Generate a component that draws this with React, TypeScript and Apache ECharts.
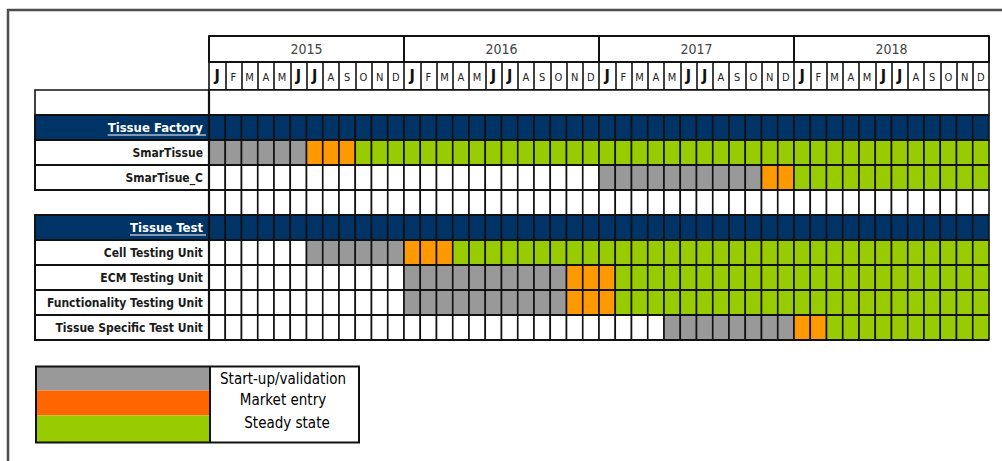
import React, { useEffect, useRef } from "react";
import * as echarts from "echarts";

// Timeline axis
const years = ["2015", "2016", "2017", "2018"];
const monthLetters = ["J", "F", "M", "A", "M", "J", "J", "A", "S", "O", "N", "D"];
const months = years.flatMap((y) => monthLetters.map((_, i) => `${y}-${String(i + 1).padStart(2, "0")}`));

// Table rows, top to bottom ("blank" and "gap" are empty spacer rows)
const rowKeys = [
  "blank",
  "Tissue Factory",
  "SmarTissue",
  "SmarTisue_C",
  "gap",
  "Tissue Test",
  "Cell Testing Unit",
  "ECM Testing Unit",
  "Functionality Testing Unit",
  "Tissue Specific Test Unit",
];
const sections = ["Tissue Factory", "Tissue Test"];

// Units and the month index (0 = Jan 2015) at which each phase begins
const units = [
  "SmarTissue",
  "SmarTisue_C",
  "Cell Testing Unit",
  "ECM Testing Unit",
  "Functionality Testing Unit",
  "Tissue Specific Test Unit",
];
const startupStart = [0, 24, 6, 12, 12, 28];
const marketStart = [6, 34, 12, 22, 22, 36];
const steadyStart = [9, 36, 15, 25, 25, 38];

const legendLabels = ["Start-up/validation", "Market entry", "Steady state"];

const NAVY = "#003366";
const GRAY = "#999999";
const ORANGE = "#ff9900";
const GREEN = "#99cc00";
const LEGEND_ORANGE = "#ff6600";
const LINE = "#111111";
const FONT = '"DejaVu Sans Condensed", "Open Sans", sans-serif';
const SEC_SIZE = 13;
const UNIT_SIZE = 12;

// status codes: 0 empty, 1 start-up, 2 market entry, 3 steady state, 4 section band
const cellFills = ["#ffffff", GRAY, ORANGE, GREEN, NAVY];

function statusOf(unitIdx: number, m: number): number {
  if (m < startupStart[unitIdx]) return 0;
  if (m < marketStart[unitIdx]) return 1;
  if (m < steadyStart[unitIdx]) return 2;
  return 3;
}

function buildCells(): number[][] {
  const out: number[][] = [];
  rowKeys.forEach((key, r) => {
    if (key === "blank") return;
    months.forEach((_, m) => {
      let s = 0;
      if (sections.includes(key)) s = 4;
      else if (key !== "gap") s = statusOf(units.indexOf(key), m);
      out.push([m, r, s]);
    });
  });
  return out;
}

let measureCtx: CanvasRenderingContext2D | null = null;
function textWidth(text: string, font: string): number {
  if (!measureCtx) measureCtx = document.createElement("canvas").getContext("2d");
  if (!measureCtx) return text.length * 7;
  measureCtx.font = font;
  return measureCtx.measureText(text).width;
}

const LABEL_COL = 174;
const LABEL_MARGIN = 6;

export default function App() {
  const ref = useRef<HTMLDivElement>(null);

  useEffect(() => {
    document.body.style.margin = "0";
    if (!ref.current) return;
    const chart = echarts.init(ref.current, null, { renderer: "svg" });

    const option: any = {
      animation: false,
      backgroundColor: "#ffffff",
      grid: { left: 209, right: 13, top: 90, bottom: 121, containLabel: false },
      xAxis: [
        {
          type: "category",
          data: months,
          position: "top",
          boundaryGap: true,
          axisLine: { show: true, lineStyle: { color: LINE, width: 2 } },
          axisTick: { show: true, interval: 0, length: 28, lineStyle: { color: LINE, width: 1.6 } },
          axisLabel: {
            interval: 0,
            margin: 7,
            formatter: (_: string, idx: number) => {
              const l = monthLetters[idx % 12];
              return l === "J" ? `{j|${l}}` : `{n|${l}}`;
            },
            rich: {
              j: { fontFamily: FONT, fontWeight: "bold", fontSize: 16, color: "#111" },
              n: { fontFamily: FONT, fontSize: 11, color: "#222" },
            },
          },
          splitLine: { show: false },
        },
        {
          type: "category",
          data: years,
          position: "top",
          offset: 28,
          boundaryGap: true,
          axisLine: { show: true, lineStyle: { color: LINE, width: 2 } },
          axisTick: { show: true, interval: 0, length: 26, lineStyle: { color: LINE, width: 2 } },
          axisLabel: { interval: 0, margin: 6, fontFamily: FONT, fontSize: 14, color: "#444" },
        },
        {
          type: "category",
          data: years,
          position: "top",
          offset: 54,
          axisLine: { show: true, lineStyle: { color: LINE, width: 2 } },
          axisTick: { show: false },
          axisLabel: { show: false },
        },
      ],
      yAxis: {
        type: "category",
        data: rowKeys,
        inverse: true,
        z: 10,
        axisLine: { show: false },
        axisTick: { show: false },
        splitLine: { show: false },
        axisLabel: {
          interval: 0,
          margin: LABEL_MARGIN,
          formatter: (v: string) =>
            sections.includes(v) ? `{sec|${v}}` : v === "blank" || v === "gap" ? "" : `{unit|${v}}`,
          rich: {
            sec: { fontFamily: FONT, fontWeight: "bold", fontSize: SEC_SIZE, color: "#ffffff" },
            unit: { fontFamily: FONT, fontWeight: "bold", fontSize: UNIT_SIZE, color: "#1a1a1a" },
          },
        },
      },
      series: [
        {
          type: "custom",
          name: "cells",
          z: 2,
          xAxisIndex: 0,
          data: buildCells(),
          renderItem: (_p: any, api: any) => {
            const m = api.value(0);
            const r = api.value(1);
            const s = api.value(2);
            const [cx, cy] = api.coord([m, r]);
            const [w, h] = api.size([1, 1]);
            return {
              type: "rect",
              shape: { x: cx - w / 2, y: cy - h / 2, width: w, height: h },
              style: { fill: cellFills[s], stroke: LINE, lineWidth: 1.6 },
            };
          },
        },
        {
          type: "custom",
          name: "rows",
          z: 3,
          xAxisIndex: 0,
          data: rowKeys.map((_, r) => [0, r]),
          renderItem: (_p: any, api: any) => {
            const r = api.value(1);
            const key = rowKeys[r];
            const [cx, cy] = api.coord([0, r]);
            const [w, h] = api.size([1, 1]);
            const [ex] = api.coord([months.length - 1, r]);
            const gx = cx - w / 2;
            const rx = ex + w / 2;
            const top = cy - h / 2;
            const bot = cy + h / 2;
            const lx = gx - LABEL_COL;
            const children: any[] = [];
            if (key === "blank") {
              children.push({
                type: "rect",
                shape: { x: lx, y: top, width: rx - lx, height: h },
                style: { fill: "#ffffff", stroke: LINE, lineWidth: 1.6 },
              });
              children.push({ type: "line", shape: { x1: gx, y1: top, x2: gx, y2: bot }, style: { stroke: LINE, lineWidth: 2 } });
            } else if (key === "gap") {
              children.push({ type: "line", shape: { x1: gx, y1: top, x2: rx, y2: top }, style: { stroke: LINE, lineWidth: 2 } });
              children.push({ type: "line", shape: { x1: gx, y1: bot, x2: rx, y2: bot }, style: { stroke: LINE, lineWidth: 2 } });
            } else {
              const isSec = sections.includes(key);
              children.push({
                type: "rect",
                shape: { x: lx, y: top, width: LABEL_COL, height: h },
                style: { fill: isSec ? NAVY : "#ffffff", stroke: LINE, lineWidth: 2 },
              });
              children.push({ type: "line", shape: { x1: lx, y1: top, x2: rx, y2: top }, style: { stroke: LINE, lineWidth: 2 } });
              children.push({ type: "line", shape: { x1: lx, y1: bot, x2: rx, y2: bot }, style: { stroke: LINE, lineWidth: 2 } });
              if (isSec) {
                const tw = textWidth(key, `bold ${SEC_SIZE}px ${FONT}`);
                const x2 = gx - LABEL_MARGIN + 3;
                const x1 = gx - LABEL_MARGIN - tw;
                children.push({
                  type: "line",
                  shape: { x1, y1: cy + 7.5, x2, y2: cy + 7.5 },
                  style: { stroke: "#ffffff", lineWidth: 1.2 },
                });
              }
            }
            children.push({ type: "line", shape: { x1: gx, y1: top, x2: gx, y2: bot }, style: { stroke: LINE, lineWidth: 2.2 } });
            return { type: "group", children };
          },
        },
      ],
      graphic: [
        {
          type: "rect",
          shape: { x: 8, y: 10, width: 1100, height: 500 },
          style: { fill: "transparent", stroke: "#4d4d4d", lineWidth: 2.5 },
          silent: true,
        },
        {
          type: "group",
          left: 35,
          top: 364,
          children: [
            { type: "rect", shape: { x: 0, y: 0, width: 174, height: 24 }, style: { fill: GRAY } },
            { type: "rect", shape: { x: 0, y: 24, width: 174, height: 25 }, style: { fill: LEGEND_ORANGE } },
            { type: "rect", shape: { x: 0, y: 49, width: 174, height: 27 }, style: { fill: GREEN } },
            { type: "rect", shape: { x: 174, y: 0, width: 149, height: 76 }, style: { fill: "#ffffff" } },
            {
              type: "rect",
              shape: { x: 0, y: 0, width: 323, height: 76 },
              style: { fill: "transparent", stroke: LINE, lineWidth: 2 },
            },
            { type: "line", shape: { x1: 174, y1: 0, x2: 174, y2: 76 }, style: { stroke: LINE, lineWidth: 2 } },
            ...legendLabels.map((t, i) => ({
              type: "text",
              x: 247 + (i === 2 ? 4 : 0),
              y: [12, 33, 56][i],
              style: {
                text: t,
                fontFamily: FONT,
                fontSize: 15,
                fill: "#000000",
                align: "center",
                verticalAlign: "middle",
              },
            })),
          ],
        },
      ],
    };

    chart.setOption(option);
    return () => chart.dispose();
  }, []);

  return <div ref={ref} style={{ width: 1002, height: 461 }} />;
}
